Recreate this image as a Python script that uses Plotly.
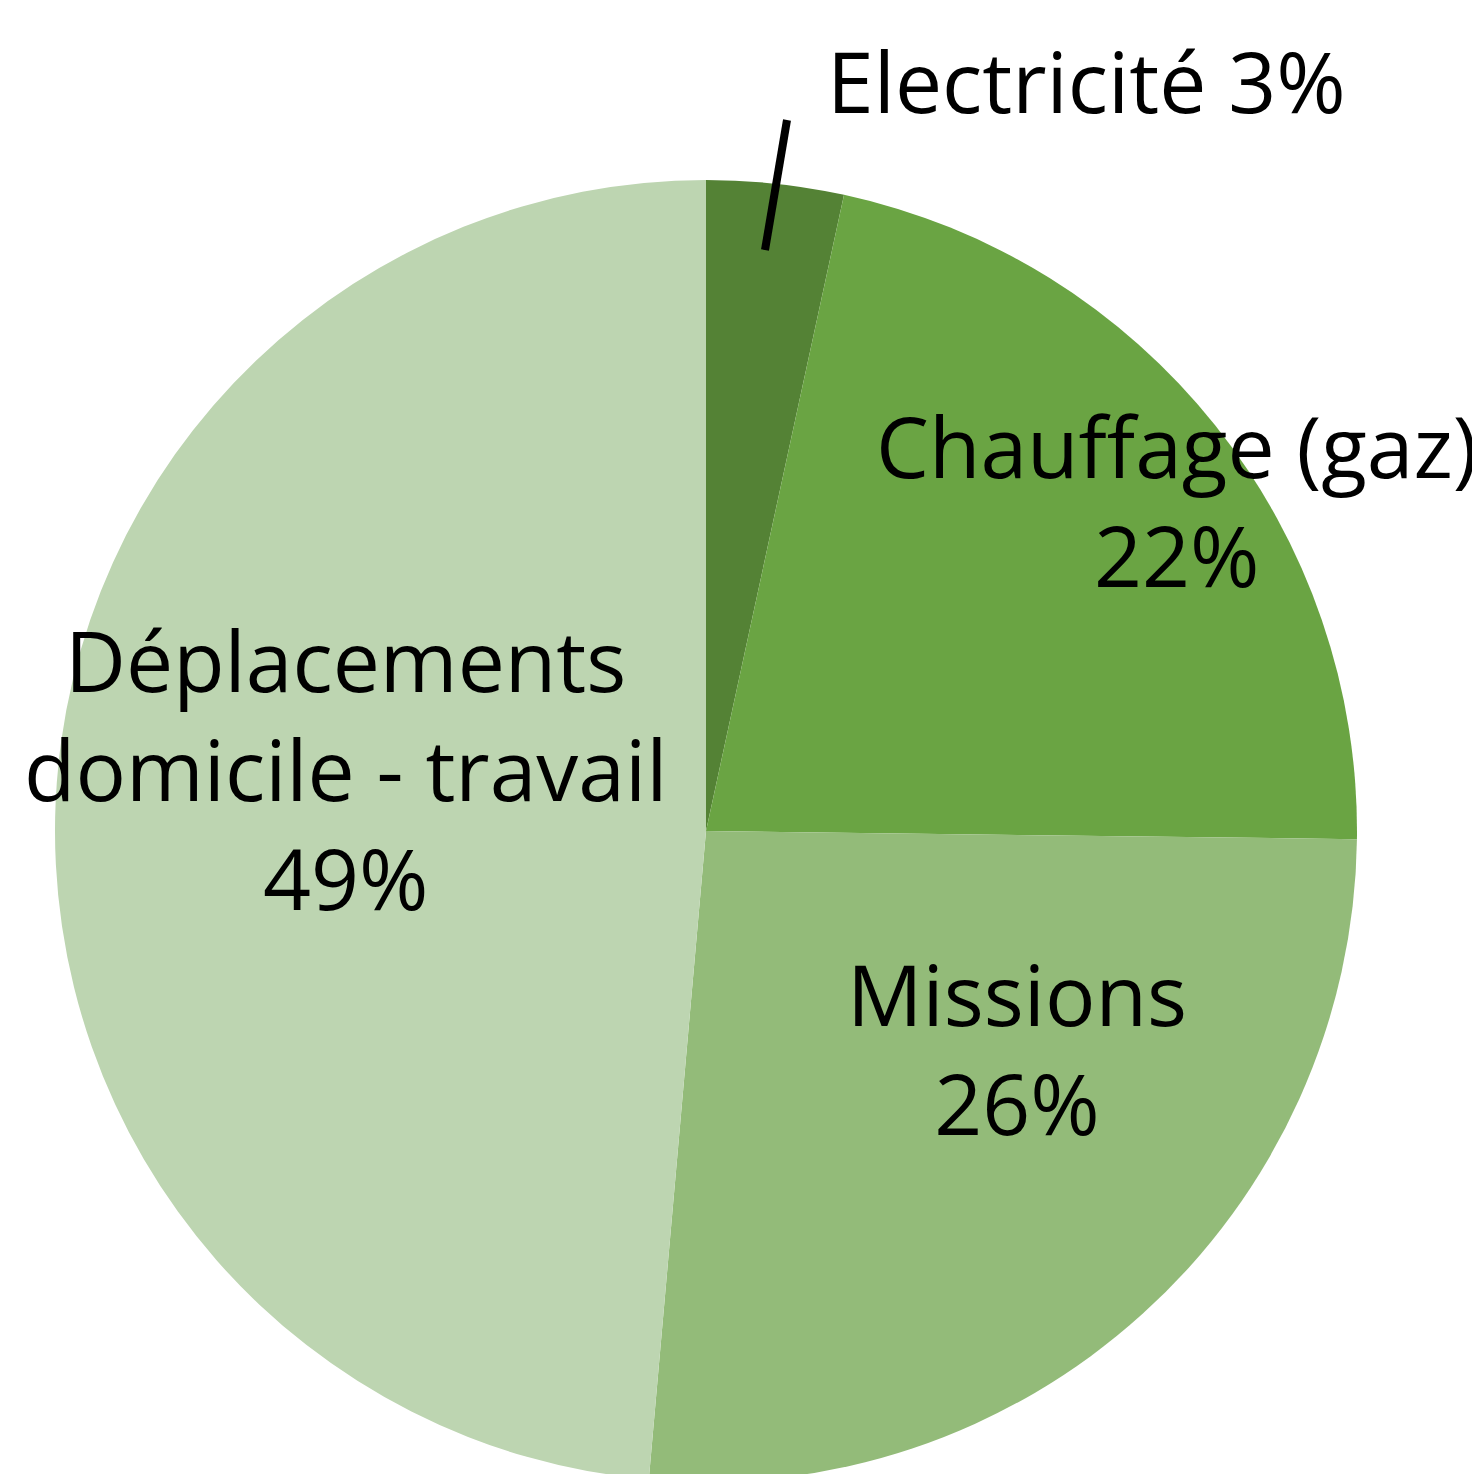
import plotly.graph_objects as go

W, H = 1480, 1474
BODY = 8  # page body margin that offsets the whole figure

# Slice data, clockwise from 12 o'clock
labels = ["Electricité", "Chauffage (gaz)", "Missions", "Déplacements domicile - travail"]
values = [3.4, 21.8, 26.2, 48.6]
colors = ["#548235", "#6AA443", "#93BB79", "#BDD5B1"]

# How each label is broken into lines on the chart
label_text = ["Electricité", "Chauffage (gaz)", "Missions", "Déplacements<br>domicile - travail"]
label_sep = [" ", "<br>", "<br>", "<br>"]

# Label centres in screen pixels (x, y from top)
label_pos = [(1086, 80), (1177, 500), (1017, 1048), (345, 768)]

FONT = "Open Sans"

total = sum(values)
pcts = [round(v / total * 100) for v in values]


def px(x, y):
    return (x - BODY) / W, 1 - (y - BODY) / H


# Pie placement in screen pixels: centre (706, 831), radius 651
cx, cy, r = 706, 831, 651
dx0, dy0 = px(cx - r, cy + r)
dx1, dy1 = px(cx + r, cy - r)
fig = go.Figure(go.Pie(
    labels=labels,
    values=values,
    sort=False,
    direction="clockwise",
    rotation=0,
    textinfo="none",
    hoverinfo="label+percent",
    marker=dict(colors=colors, line=dict(width=0)),
    domain=dict(x=[dx0, dx1], y=[max(dy0, 0), dy1]),
    showlegend=False,
))

for text, sep, pct, (x, y) in zip(label_text, label_sep, pcts, label_pos):
    ax, ay = px(x, y)
    fig.add_annotation(
        x=ax, y=ay, xref="paper", yref="paper",
        text=f"{text}{sep}{pct}%",
        showarrow=False,
        xanchor="center", yanchor="middle",
        align="center",
        font=dict(family=FONT, size=84, color="black"),
    )

# Leader line for the small Electricité slice
x0, y0 = px(787, 120)
x1, y1 = px(765, 250)
fig.add_shape(type="line", xref="paper", yref="paper",
              x0=x0, y0=y0, x1=x1, y1=y1,
              line=dict(color="black", width=8))

fig.update_layout(
    width=W, height=H,
    margin=dict(l=0, r=0, t=0, b=0),
    paper_bgcolor="white",
    plot_bgcolor="white",
)

fig.write_html("out.html")
